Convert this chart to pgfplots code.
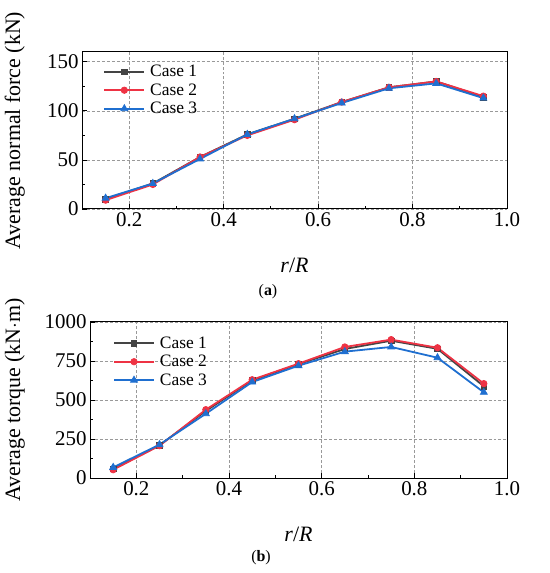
\documentclass[border=0pt]{standalone}
\usepackage{pgfplots}
\pgfplotsset{compat=1.18}
\usepackage{fontspec}
\setmainfont{Liberation Serif}
\definecolor{c1}{HTML}{444444}
\definecolor{c2}{HTML}{EE3344}
\definecolor{c3}{HTML}{1F6FD0}
\pgfplotsset{
  myax/.style={
    scale only axis,
    xmin=0.1, xmax=1.0,
    xtick={0.2,0.4,0.6,0.8,1.0},
    minor x tick num=1,
    minor y tick num=1,
    tick align=inside,
    xtick pos=bottom, ytick pos=left,
    major tick length=5bp, minor tick length=3bp,
    grid=major,
    major grid style={densely dashed, gray!80, line width=0.6pt},
    axis line style={line width=1pt},
    tick style={line width=0.8pt, black},
    every tick label/.append style={font=\fontsize{21}{23}\selectfont},
    /pgf/number format/assume math mode=true,
    /pgf/number format/1000 sep={},
    xticklabel style={/pgf/number format/.cd, fixed, fixed zerofill, precision=1},
    yticklabel style={/pgf/number format/.cd, fixed, precision=0, 1000 sep={}},
    xlabel={\textit{r}/\textit{R}},
    label style={font=\fontsize{22}{25}\selectfont},
    legend style={draw=none, fill=none, font=\fontsize{17.5}{20}\selectfont,
      row sep=1.5bp, inner sep=0pt, column sep=3bp},
    legend cell align=left,
    legend image code/.code={%
      \draw[#1, mark=none] (0cm,0cm) -- (1.41cm,0cm);
      \path[#1] plot coordinates {(0.705cm,0cm)};},
  },
  s1/.style={c1, line width=1.8pt, mark=square*, mark size=2.8pt, mark options={line width=0.8pt}},
  s2/.style={c2, line width=1.8pt, mark=*, mark size=3.2pt, mark options={line width=0.8pt}},
  s3/.style={c3, line width=1.8pt, mark=triangle*, mark size=4pt, mark options={line width=0.8pt}},
}
\begin{document}
\begin{tikzpicture}[x=1bp,y=1bp]
\path[use as bounding box] (0,0) rectangle (550,573);
\begin{axis}[myax, at={(82bp,364bp)}, anchor=south west,
  width=425bp, height=157bp,
  ymin=0, ymax=160, ytick={0,50,100,150},
  ylabel={Average normal force (kN)},
  ylabel style={at={(axis description cs:-0.158,0.5)}, anchor=center},
  xlabel style={at={(axis description cs:0.5,-0.36)}, anchor=center},
  legend style={at={(axis description cs:0.05,0.93)}, anchor=north west},
  ]
\addplot[s1] coordinates {(0.15,10) (0.25,26) (0.35,53) (0.45,76) (0.55,92) (0.65,109) (0.75,124) (0.85,130) (0.95,114)};
\addplot[s2] coordinates {(0.15,9) (0.25,25) (0.35,53) (0.45,75) (0.55,91) (0.65,109) (0.75,124) (0.85,130) (0.95,115)};
\addplot[s3] coordinates {(0.15,11) (0.25,26) (0.35,51) (0.45,76) (0.55,92) (0.65,108) (0.75,123) (0.85,128) (0.95,113)};
\legend{Case 1, Case 2, Case 3}
\end{axis}
\node[font=\fontsize{16}{18}\selectfont] at (268,281) {(\textbf{a})};
\begin{axis}[myax, at={(90bp,95bp)}, anchor=south west,
  width=417bp, height=156bp,
  ymin=0, ymax=1000, ytick={0,250,500,750,1000},
  ylabel={Average torque (kN$\cdot$m)},
  ylabel style={at={(axis description cs:-0.18,0.5)}, anchor=center},
  xlabel style={at={(axis description cs:0.5,-0.36)}, anchor=center},
  legend style={at={(axis description cs:0.055,0.92)}, anchor=north west},
  ]
\addplot[s1] coordinates {(0.15,58) (0.25,210) (0.35,430) (0.45,625) (0.55,730) (0.65,827) (0.75,880) (0.85,828) (0.95,588)};
\addplot[s2] coordinates {(0.15,53) (0.25,207) (0.35,438) (0.45,630) (0.55,733) (0.65,840) (0.75,887) (0.85,835) (0.95,605)};
\addplot[s3] coordinates {(0.15,68) (0.25,214) (0.35,412) (0.45,615) (0.55,720) (0.65,810) (0.75,840) (0.85,771) (0.95,549)};
\legend{Case 1, Case 2, Case 3}
\end{axis}
\node[font=\fontsize{16}{18}\selectfont] at (261,15) {(\textbf{b})};
\end{tikzpicture}
\end{document}
